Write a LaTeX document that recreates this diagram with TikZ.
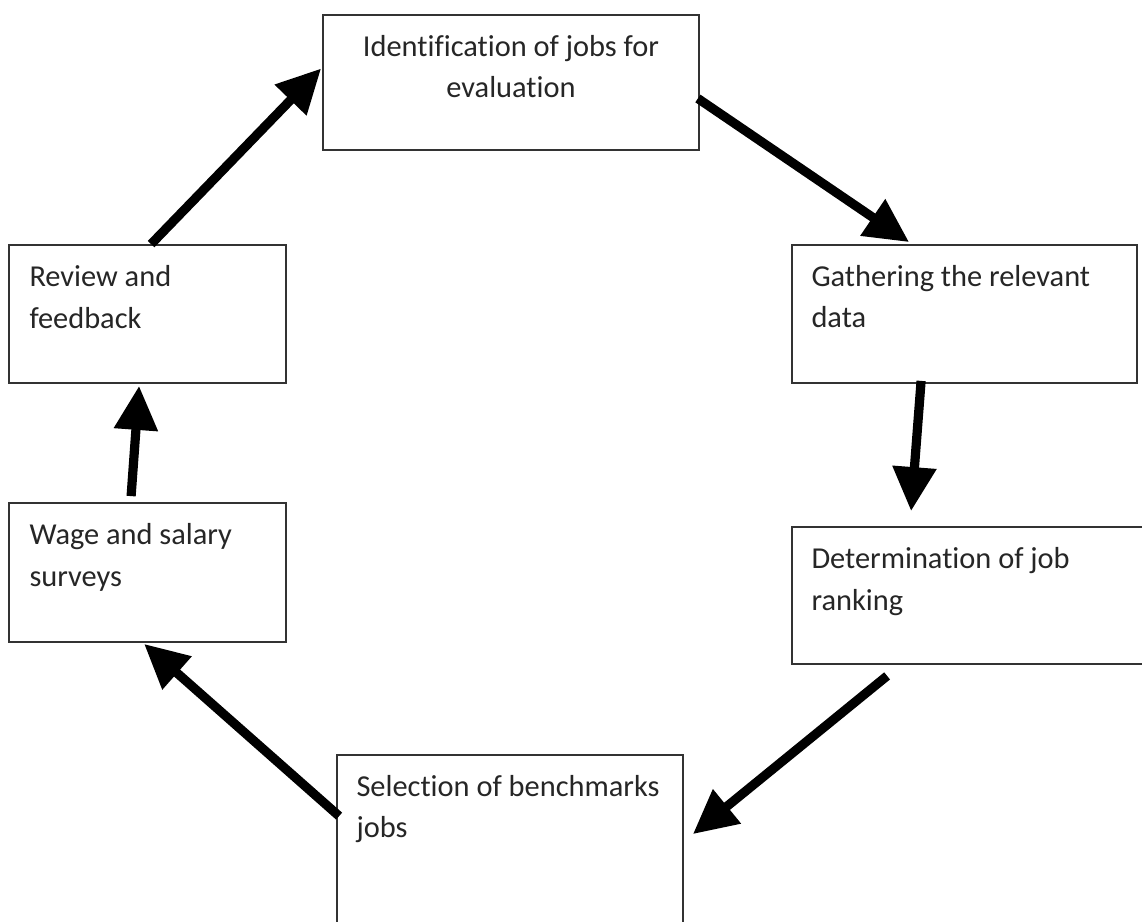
\documentclass[tikz,border=0pt]{standalone}
\usepackage{fontspec}
\setmainfont{Carlito}[Ligatures=NoCommon]
\usetikzlibrary{calc, fit, arrows.meta}

\begin{document}
\begin{tikzpicture}[
x=0.5pt, y=-0.5pt,
% process steps
box/.style={draw=black!80, line width=0.9pt, inner sep=0, fill=white},
txt/.style={font=\fontsize{15.2}{20.75}\selectfont, text=black!85, inner sep=0},
txtL/.style={txt, align=left, anchor=base west},
txtC/.style={txt, align=center, anchor=base},
% connectors
flow/.style={line width=4.6pt, -{Triangle[length=22pt, width=21pt]}}
]

% FRAME
\clip (0,0) rectangle (1142,922);
\fill[white] (0,0) rectangle (1142,922);

% BOXES
\node[box, fit={(323,15) (699,150)}] (ident) {};
\node[box, fit={(792,245) (1137,383)}] (gather) {};
\node[box, fit={(792,527) (1150,664)}] (determ) {};
\node[box, fit={(337,755) (683,940)}] (select) {};
\node[box, fit={(9,503) (286,642)}] (wage) {};
\node[box, fit={(9,245) (286,383)}] (review) {};

% TEXTS (anchor on the baseline of the second line)
\path
($(ident.north)+(0,83.5)$) node[txtC] (identtxt) {Identification of jobs for\\evaluation}
($(gather.north west)+(20,83.5)$) node[txtL] (gathertxt) {Gathering the relevant\\data}
($(determ.north west)+(20,84)$) node[txtL] (determtxt) {Determination of job\\ranking}
($(select.north west)+(20,83.5)$) node[txtL] (selecttxt) {Selection of benchmarks\\jobs}
($(wage.north west)+(21,84)$) node[txtL] (wagetxt) {Wage and salary\\surveys}
($(review.north west)+(21,84)$) node[txtL] (reviewtxt) {Review and\\feedback}
;

% CONNECTORS
\draw[flow] ($(ident.east)+(-2,16)$) -- ($(gather.north west)+(118,-2)$);
\draw[flow] ($(gather.south west)+(130,-3)$) -- ($(determ.north west)+(120,-15)$);
\draw[flow] ($(determ.south west)+(96,11)$) -- ($(select.north east)+(9,80)$);
\draw[flow] ($(select.north west)+(3,62)$) -- ($(wage.south west)+(136,1)$);
\draw[flow] ($(wage.north west)+(123,-6)$) -- ($(review.south west)+(131,2)$);
\draw[flow] ($(review.north west)+(143,0)$) -- ($(ident.west)+(-1,-14)$);

\end{tikzpicture}
\end{document}
